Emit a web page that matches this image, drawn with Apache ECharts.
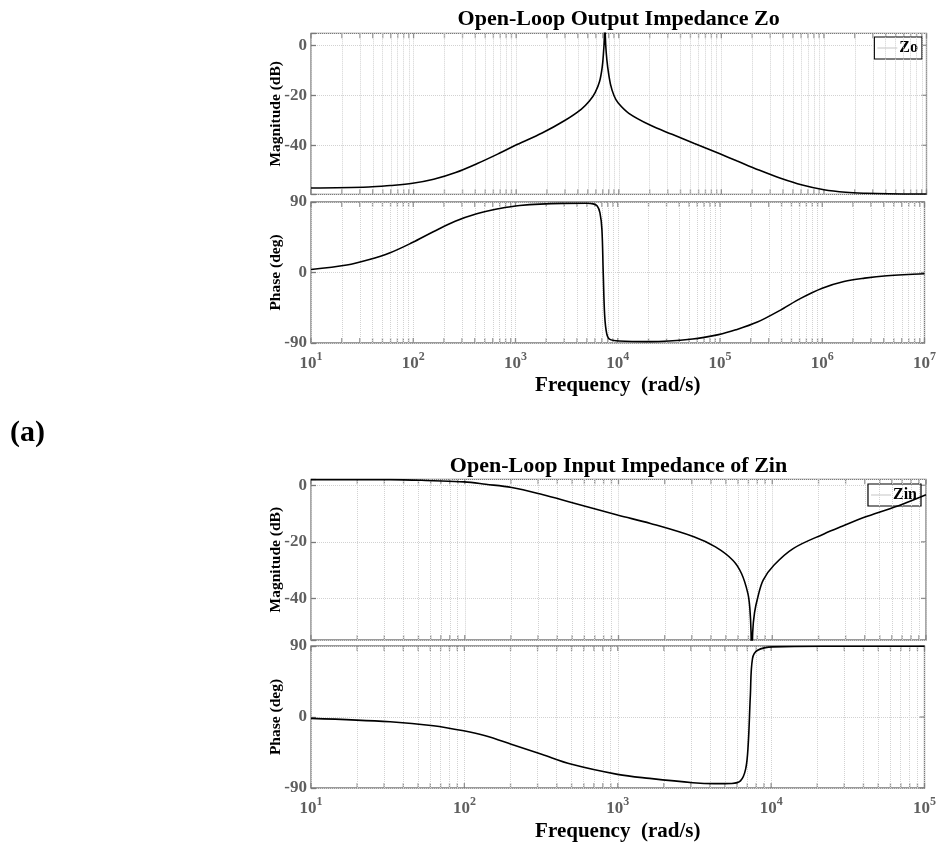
<!DOCTYPE html>
<html>
<head>
<meta charset="utf-8">
<script src="https://cdn.jsdelivr.net/npm/echarts@6/dist/echarts.min.js"></script>
<style>
  html, body { margin: 0; padding: 0; background: #ffffff; }
  #chart { width: 939px; height: 843px; }
</style>
</head>
<body>
<div id="chart"></div>
<script>
// ---------- Open-loop output impedance Zo ----------
const zoMagFreq = [10, 36.5, 59, 98, 157, 257, 418, 677, 1018, 1790, 2917, 4300, 5200, 5900, 6500, 6900, 7100, 7250, 7320, 7400, 7550, 7800, 8300, 9000, 9840, 12540, 20400, 33100, 53900, 96800, 142800, 232000, 378000, 615000, 1e6, 1.63e6, 2.6e6, 4.3e6, 1e7];
const zoMag     = [-57.1, -56.7, -56.1, -55.2, -53.6, -50.9, -47.3, -43.3, -39.7, -35.1, -30.3, -25.6, -22.2, -18.8, -14.5, -8.7, -3.0, 3.5, 14, 3.5, -3.0, -8.7, -15.5, -20.2, -23.0, -27.2, -32.0, -35.6, -39.2, -43.4, -46.3, -49.9, -53.2, -55.9, -57.8, -58.8, -59.2, -59.4, -59.5];
const zoPhaseFreq = [10, 22.4, 36.5, 59.4, 98, 157, 257, 418, 677, 1100, 2917, 5000, 5750, 6300, 6700, 7000, 7210, 7450, 7800, 8300, 10350, 20400, 53900, 96800, 142800, 232000, 378000, 615000, 1e6, 1.63e6, 2.6e6, 4.3e6, 1e7];
const zoPhase     = [3.8, 9.5, 16.2, 25.2, 38.2, 52, 65.4, 74.9, 81.3, 85.6, 88.2, 88.4, 87.6, 84.8, 76, 55, 0, -55, -78, -85, -87.5, -88.2, -84.9, -79.3, -73.2, -63.3, -49, -33, -20, -11.5, -7.2, -4.2, -1.6];

// ---------- Open-loop input impedance Zin ----------
const zinMagFreq = [10, 32.8, 62.8, 99, 137, 202, 319, 501, 997, 1614, 3090, 4270, 5540, 6310, 6940, 7150, 7280, 7360, 7460, 7670, 8070, 8730, 10280, 13750, 21680, 27600, 41500, 69700, 1e5];
const zinMag     = [2.0, 2.0, 1.6, 1.2, 0.35, -0.8, -3.3, -6.2, -10.6, -13.5, -18.2, -21.8, -26.5, -31.2, -38.2, -43.5, -52, -70, -52, -45, -39.4, -33.5, -28.2, -22.3, -17.2, -14.8, -11.0, -6.8, -3.4];
const zinPhaseFreq = [10, 32.8, 62.8, 99, 137, 202, 319, 501, 997, 1614, 3090, 4270, 5540, 6310, 6820, 7080, 7320, 7560, 8170, 10280, 21680, 1e5];
const zinPhase     = [-1.7, -6, -11, -17.5, -23.8, -34.4, -47.2, -60, -72.7, -77.8, -83.3, -84.5, -84.2, -81, -66, -36.6, 27, 74, 84.6, 88.9, 89.6, 89.6];

// ---------- axes ----------
const topDecades = [10, 100, 1e3, 1e4, 1e5, 1e6, 1e7];
const bottomDecades = [10, 100, 1e3, 1e4, 1e5];
const decadeMultipliers = [2, 3, 4, 5, 6, 7, 8, 9];
const magTickValues = [0, -20, -40];
const phaseTickValues = [-90, 0, 90];

const FONT = 'Liberation Serif';
const BOX = '#7a7a7a';
const GRIDLINE = '#d2d2d2';
const TICKLABEL = '#5f5f5f';

// grid extents: [xMin, xMax, yMin, yMax]
const ranges = [
  [10, 1e7, -59.6, 4.8],
  [10, 1e7, -90, 90],
  [10, 1e5, -54.7, 2.1],
  [10, 1e5, -90, 90]
];
const gridDecades = [topDecades, topDecades, bottomDecades, bottomDecades];
const gridYTicks = [magTickValues, phaseTickValues, magTickValues, phaseTickValues];

const grids = [
  { left: 311, right: 12.5, top: 33.3, height: 161 },
  { left: 311, right: 12.5, top: 202, height: 141 },
  { left: 311, right: 13, top: 479.3, height: 160.7 },
  { left: 311, right: 13, top: 646, height: 142 }
].map(g => Object.assign(g, { show: true, borderColor: BOX, borderWidth: 1.3, backgroundColor: 'transparent' }));

function pairs(xs, ys) { return xs.map((x, i) => [x, ys[i]]); }

function xAxisFor(i) {
  const r = ranges[i];
  const showLabels = (i === 1 || i === 3);
  return {
    type: 'log', logBase: 10, gridIndex: i, min: r[0], max: r[1],
    axisLine: { show: false }, axisTick: { show: false },
    splitLine: { show: true, lineStyle: { type: 'dotted', color: GRIDLINE, width: 1 } },
    axisLabel: {
      show: showLabels, margin: 8,
      formatter: v => '{b|10}{s|' + Math.round(Math.log10(v)) + '}',
      rich: {
        b: { fontFamily: FONT, fontWeight: 'bold', fontSize: 17, color: TICKLABEL, verticalAlign: 'bottom', padding: [4, 0, 0, 0] },
        s: { fontFamily: FONT, fontWeight: 'bold', fontSize: 12, color: TICKLABEL, verticalAlign: 'top' }
      }
    },
    name: showLabels ? 'Frequency  (rad/s)' : '',
    nameLocation: 'middle', nameGap: i === 1 ? 32 : 33,
    nameTextStyle: { fontFamily: FONT, fontWeight: 'bold', fontSize: 21, color: '#000' }
  };
}

function yAxisFor(i) {
  const r = ranges[i];
  const isMag = (i % 2 === 0);
  const ax = {
    type: 'value', gridIndex: i, min: r[2], max: r[3],
    axisLine: { show: false },
    axisTick: { show: true, inside: true, length: 5, lineStyle: { color: BOX, width: 1.3 } },
    splitLine: { show: true, lineStyle: { type: 'dotted', color: GRIDLINE, width: 1 } },
    axisLabel: {
      margin: 4, fontFamily: FONT, fontWeight: 'bold', fontSize: 17, color: TICKLABEL,
      formatter: v => (gridYTicks[i].indexOf(Math.round(v * 1000) / 1000) >= 0 ? String(v) : '')
    },
    name: isMag ? 'Magnitude (dB)' : 'Phase (deg)',
    nameLocation: 'middle', nameGap: 27.5, nameMoveOverlap: false,
    nameTextStyle: { fontFamily: FONT, fontWeight: 'bold', fontSize: 15.5, color: '#000' }
  };
  if (isMag) { ax.splitNumber = 3; } else { ax.interval = 90; }
  return ax;
}

// minor tick marks on the box edges and dotted minor grid lines
function decorationSeries(i) {
  const r = ranges[i];
  const decades = gridDecades[i];
  const freqs = [];
  const minors = [];
  decades.forEach((d, k) => {
    freqs.push(d);
    if (k < decades.length - 1) decadeMultipliers.forEach(m => { freqs.push(d * m); minors.push({ xAxis: d * m }); });
  });
  const pts = [];
  freqs.forEach(f => {
    pts.push({ value: [f, r[3]], symbolOffset: [0, 2.5] });
    pts.push({ value: [f, r[2]], symbolOffset: [0, -2.5] });
  });
  gridYTicks[i].forEach(v => pts.push({ value: [r[1], v], symbolOffset: [-2.5, 0], symbolSize: [5, 1.3] }));
  return {
    type: 'scatter', xAxisIndex: i, yAxisIndex: i, silent: true, clip: false, z: 2,
    symbol: 'rect', symbolSize: [1.3, 5], itemStyle: { color: BOX },
    data: pts,
    markLine: {
      silent: true, symbol: 'none', label: { show: false },
      lineStyle: { type: 'dotted', color: GRIDLINE, width: 1 },
      data: minors
    }
  };
}

function curve(i, name, xs, ys) {
  return {
    type: 'line', name: name, xAxisIndex: i, yAxisIndex: i,
    data: pairs(xs, ys), showSymbol: false, symbol: 'none',
    smooth: 0.35, clip: true, z: 5,
    lineStyle: { color: '#000', width: 1.6 }, itemStyle: { color: '#000' }
  };
}

function legendAt(name, right, top) {
  return {
    data: [{ name: name, icon: 'path://M0,0 H40 V1 H0 Z' }], right: right, top: top, orient: 'horizontal',
    backgroundColor: '#fff', borderColor: '#000', borderWidth: 1.2, borderRadius: 0,
    padding: [3, 4, 3, 3], itemWidth: 20, itemHeight: 1, itemGap: 2,
    itemStyle: { color: '#8a8a8a' },
    textStyle: { fontFamily: FONT, fontWeight: 'bold', fontSize: 16, color: '#000', padding: [0, 0, 0, -3] },
    selectedMode: false
  };
}

const chart = echarts.init(document.getElementById('chart'), null, { renderer: 'canvas' });
chart.setOption({
  animation: false,
  backgroundColor: '#ffffff',
  title: [
    { text: 'Open-Loop Output Impedance Zo', left: 618.6, top: 8, textAlign: 'center', padding: 0,
      textStyle: { fontFamily: FONT, fontWeight: 'bold', fontSize: 22, color: '#000' } },
    { text: 'Open-Loop Input Impedance of Zin', left: 618.5, top: 455, textAlign: 'center', padding: 0,
      textStyle: { fontFamily: FONT, fontWeight: 'bold', fontSize: 22, color: '#000' } },
    { text: '(a)', left: 10, top: 418, padding: 0,
      textStyle: { fontFamily: FONT, fontWeight: 'bold', fontSize: 30, color: '#000' } }
  ],
  legend: [legendAt('Zo', 17, 37), legendAt('Zin', 18, 484)],
  grid: grids,
  xAxis: [0, 1, 2, 3].map(xAxisFor),
  yAxis: [0, 1, 2, 3].map(yAxisFor),
  series: [
    decorationSeries(0), decorationSeries(1), decorationSeries(2), decorationSeries(3),
    curve(0, 'Zo', zoMagFreq, zoMag),
    curve(1, 'Zo phase', zoPhaseFreq, zoPhase),
    curve(2, 'Zin', zinMagFreq, zinMag),
    curve(3, 'Zin phase', zinPhaseFreq, zinPhase)
  ]
});
</script>
</body>
</html>
